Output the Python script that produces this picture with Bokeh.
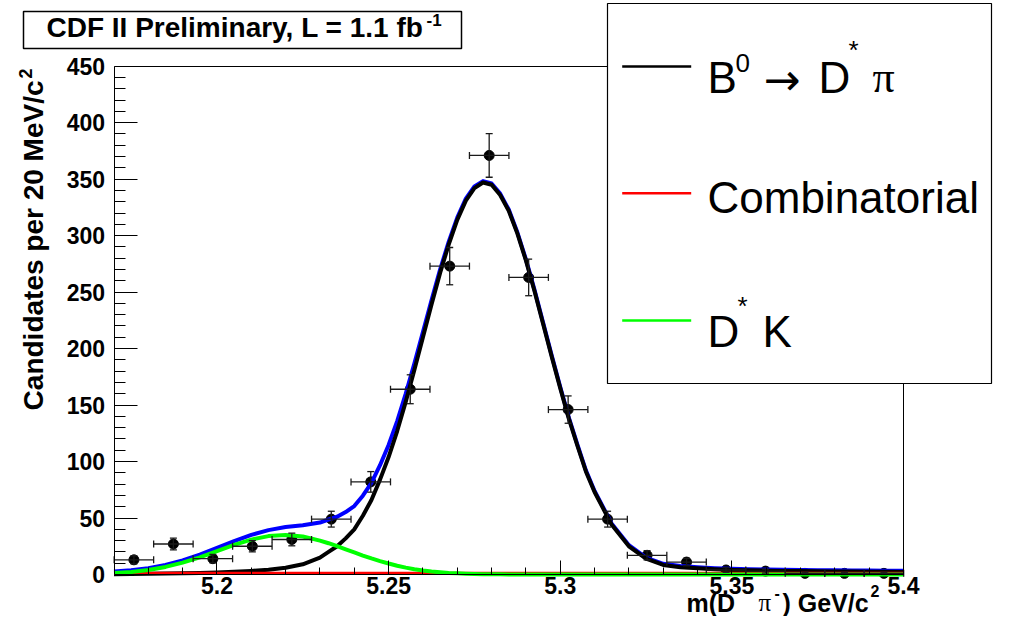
import math
from bokeh.plotting import figure
from bokeh.models import (Range1d, FixedTicker, ColumnDataSource, Whisker, TeeHead,
                          Label, BoxAnnotation, Arrow, LinearAxis)
from bokeh.embed import file_html
from bokeh.resources import INLINE

# ---------------- data ----------------
bin_centers = [5.1758, 5.1873, 5.1988, 5.2103, 5.2218, 5.2333, 5.2448, 5.2563,
               5.2678, 5.2793, 5.2908, 5.3023, 5.3138, 5.3253, 5.3368, 5.3483,
               5.3598, 5.3713, 5.3828, 5.3943]
bin_width = 0.0115
counts = [13, 27, 14, 25, 31, 49, 82, 164, 273, 371, 263, 146, 49, 17, 11, 4, 3, 1, 1, 1]
count_err = [3.6, 5.2, 3.7, 5.0, 5.6, 7.0, 9.1, 12.8, 16.5, 19.3, 16.2, 12.1, 7.0,
             4.1, 3.3, 2.0, 1.7, 1.0, 1.0, 1.0]

fit_mass = [5.170, 5.175, 5.180, 5.185, 5.190, 5.195, 5.200, 5.205, 5.210, 5.215,
            5.220, 5.225, 5.230, 5.2325, 5.235, 5.2375, 5.240, 5.2425, 5.245, 5.2475, 5.250,
            5.2525, 5.255, 5.2575, 5.260, 5.2625, 5.265, 5.2675, 5.270, 5.2725, 5.275,
            5.2775, 5.280, 5.2825, 5.285, 5.2875, 5.290, 5.2925, 5.295, 5.2975, 5.300,
            5.3025, 5.305, 5.3075,
            5.310, 5.315, 5.320, 5.325, 5.330, 5.335, 5.340, 5.345, 5.350, 5.355,
            5.360, 5.365, 5.370, 5.375, 5.380, 5.385, 5.390, 5.395, 5.400]
fit_signal = [0.3, 0.4, 0.6, 0.8, 1.0, 1.4, 1.8, 2.4, 3.2, 4.3,
              6.0, 9.0, 15, 20, 25, 32, 40, 52, 66, 84, 104,
              127, 153, 181, 210, 239, 267, 292, 314, 331, 342,
              347, 345, 336, 322, 302, 278, 251, 222, 193, 165,
              138, 114, 91,
              73, 44, 25, 14, 8.5, 6.5, 5.5, 4.6, 4.0, 3.7,
              3.4, 3.2, 3.0, 2.8, 2.7, 2.6, 2.5, 2.4, 2.3]
fit_dstar_k = [1.3, 2.3, 4.0, 6.7, 10.5, 15.2, 20.7, 26.2, 30.9, 34.0,
               35.0, 33.6, 30.0, 27.7, 25.1, 22.3, 19.6, 16.8, 14.2, 11.8, 9.7,
               7.8, 6.1, 4.7, 3.6, 2.7, 2.0, 1.4, 1.0, 0.7, 0.5,
               0.3, 0.2, 0.15, 0.1, 0, 0, 0, 0, 0, 0,
               0, 0, 0,
               0, 0, 0, 0, 0, 0, 0, 0, 0, 0,
               0, 0, 0, 0, 0, 0, 0, 0, 0]
fit_total = [2.6, 3.7, 5.6, 8.5, 12.5, 17.6, 23.5, 29.6, 35.1, 39.3,
             42.0, 43.6, 46.0, 48.7, 51.1, 55.3, 60.6, 69.8, 81.2, 96.8, 114.7,
             135.8, 160.1, 186.7, 214.6, 242.7, 270.0, 294.4, 316.0, 332.7, 343.5,
             348.3, 346.2, 337.2, 323.1, 303.0, 279.0, 252.0, 223.0, 194.0, 166.0,
             139.0, 115.0, 92.0,
             74.0, 45.0, 26.0, 15.0, 9.5, 7.5, 6.5, 5.6, 5.0, 4.7,
             4.4, 4.2, 4.0, 3.8, 3.7, 3.6, 3.5, 3.4, 3.3]
comb_mass = [5.17, 5.40]
comb_level = [1.0, 1.0]

x_major_ticks = [5.2, 5.25, 5.3, 5.35, 5.4]
x_tick_labels = ["5.2", "5.25", "5.3", "5.35", "5.4"]
x_minor_ticks = [5.18, 5.19, 5.21, 5.22, 5.23, 5.24, 5.26, 5.27, 5.28, 5.29,
                 5.31, 5.32, 5.33, 5.34, 5.36, 5.37, 5.38, 5.39]
y_major_ticks = [0, 50, 100, 150, 200, 250, 300, 350, 400, 450]
y_minor_ticks = [10, 20, 30, 40, 60, 70, 80, 90, 110, 120, 130, 140, 160, 170, 180, 190,
                 210, 220, 230, 240, 260, 270, 280, 290, 310, 320, 330, 340, 360, 370,
                 380, 390, 410, 420, 430, 440]

# ---------------- geometry ----------------
X_LO, X_HI = 5.17, 5.40
Y_LO, Y_HI = 0, 450
W, H = 993, 616
# pixel box (canvas px) of the data region
FRAME_L, FRAME_R, FRAME_T, FRAME_B = 113.5, 903, 65.7, 574
BASE_SHIFT = 0.36  # label anchor sits this fraction of the font size above the baseline


def cx(px):
    return X_LO + (px - FRAME_L) * (X_HI - X_LO) / (FRAME_R - FRAME_L)


def cy(py):
    return Y_LO + (FRAME_B - py) * (Y_HI - Y_LO) / (FRAME_B - FRAME_T)


p = figure(width=W, height=H, x_range=Range1d(cx(0), cx(W)), y_range=Range1d(cy(H), cy(0)),
           output_backend="svg", toolbar_location=None,
           min_border_left=0, min_border_right=0, min_border_top=0, min_border_bottom=0)
p.title.visible = False
p.grid.visible = False
p.outline_line_color = None
p.background_fill_color = "white"
p.border_fill_color = "white"

FONT = "Liberation Sans"

xa = p.xaxis[0]
xa.fixed_location = Y_LO
xa.bounds = (X_LO, X_HI)
xa.ticker = FixedTicker(ticks=x_major_ticks, minor_ticks=x_minor_ticks)
xa.major_label_overrides = dict(zip(x_major_ticks, x_tick_labels))
xa.major_tick_in = 14
xa.major_tick_out = 0
xa.minor_tick_in = 7
xa.minor_tick_out = 0
xa.major_label_standoff = 2

ya = p.yaxis[0]
ya.fixed_location = X_LO
ya.bounds = (Y_LO, Y_HI)
ya.ticker = FixedTicker(ticks=y_major_ticks, minor_ticks=y_minor_ticks)
ya.major_tick_in = 23
ya.major_tick_out = 0
ya.minor_tick_in = 11
ya.minor_tick_out = 0
ya.major_label_standoff = 9

for ax in (xa, ya):
    ax.axis_line_color = "black"
    ax.axis_line_width = 1
    ax.major_tick_line_color = "black"
    ax.minor_tick_line_color = "black"
    ax.major_label_text_font = FONT
    ax.major_label_text_font_style = "bold"
    ax.major_label_text_font_size = "23px"
    ax.major_label_text_color = "black"

# frame top and right edges (plain lines, no ticks)
top_axis = LinearAxis(fixed_location=Y_HI, bounds=(X_LO, X_HI), ticker=FixedTicker(ticks=[]),
                      major_tick_in=0, major_tick_out=0, minor_tick_in=0, minor_tick_out=0,
                      major_label_text_font_size="0px", axis_line_color="black")
right_axis = LinearAxis(fixed_location=X_HI, bounds=(Y_LO, Y_HI), ticker=FixedTicker(ticks=[]),
                        major_tick_in=0, major_tick_out=0, minor_tick_in=0, minor_tick_out=0,
                        major_label_text_font_size="0px", axis_line_color="black")
p.add_layout(top_axis, "above")
p.add_layout(right_axis, "right")

# ---------------- data points with error bars ----------------
src = ColumnDataSource(dict(
    x=bin_centers, y=counts,
    lo=[c - e for c, e in zip(counts, count_err)],
    hi=[c + e for c, e in zip(counts, count_err)],
    xlo=[b - bin_width / 2 for b in bin_centers],
    xhi=[b + bin_width / 2 for b in bin_centers],
))
EB = "#1a1a1a"
for dim, base, lo, hi in (("height", "x", "lo", "hi"), ("width", "y", "xlo", "xhi")):
    p.add_layout(Whisker(source=src, base=base, lower=lo, upper=hi, dimension=dim,
                         line_color=EB, line_width=1.3, level="glyph",
                         lower_head=TeeHead(size=7, line_color=EB, line_width=1.3),
                         upper_head=TeeHead(size=7, line_color=EB, line_width=1.3)))
p.scatter("x", "y", source=src, size=10, marker="circle", color="black")

# ---------------- fit curves ----------------
p.line(fit_mass, fit_total, line_color="#0000ff", line_width=4, line_join="round")
p.line(fit_mass, fit_signal, line_color="black", line_width=4, line_join="round")
p.line(comb_mass, comb_level, line_color="#ff0000", line_width=3)
p.line(fit_mass, fit_dstar_k, line_color="#00ff00", line_width=4, line_join="round")


def txt(s, px, py, size, bold=True, font=FONT, align="left", vertical=False):
    """px, py: canvas position of the text's baseline start (or end for align='right')."""
    if vertical:
        px = px - BASE_SHIFT * size
        angle = math.pi / 2
    else:
        py = py - BASE_SHIFT * size
        angle = 0.0
    p.add_layout(Label(x=cx(px), y=cy(py), text=s, text_font=font,
                       text_font_size=f"{size}px",
                       text_font_style="bold" if bold else "normal",
                       text_align=align, text_baseline="alphabetic",
                       angle=angle, text_color="black"))


def box(left, right, top, bottom, lw):
    p.add_layout(BoxAnnotation(left=cx(left), right=cx(right), top=cy(top), bottom=cy(bottom),
                               fill_color="white", fill_alpha=1.0,
                               line_color="black", line_alpha=1.0, line_width=lw))


# ---------------- title box ----------------
box(23, 461, 11, 48, 1.5)
txt("CDF II Preliminary, L = 1.1 fb", 46, 37.5, 28)
txt("-1", 426, 26, 17)

# ---------------- axis titles ----------------
txt("Candidates per 20 MeV/c", 43, 80, 28, align="right", vertical=True)
txt("2", 31, 78, 18, vertical=True)

txt("m(D", 686, 611, 25)
txt("\u03c0", 758, 611, 25, bold=False, font="Liberation Serif")
txt("-", 774, 598, 16)
txt(") GeV/c", 782, 611, 25)
txt("2", 870, 596, 16)

# ---------------- legend ----------------
box(607, 991, 3, 383, 1.2)
for yy, col in ((66, "black"), (192.7, "#ff0000"), (320, "#00ff00")):
    p.add_layout(Arrow(x_start=cx(621.7), y_start=cy(yy), x_end=cx(690.7), y_end=cy(yy),
                       end=None, line_color=col, line_width=2.5))

txt("B", 707, 92.7, 44, bold=False)
txt("0", 735, 72, 26, bold=False)
txt("\u2192", 763, 95, 44, bold=False, font="DejaVu Sans")
txt("D", 818, 92.7, 44, bold=False)
txt("*", 848, 59, 26, bold=False)
txt("\u03c0", 872, 92.7, 44, bold=False, font="Liberation Serif")

txt("Combinatorial", 707, 212.7, 44, bold=False)

txt("D", 707, 346.7, 44, bold=False)
txt("*", 737, 315, 26, bold=False)
txt("K", 762, 346.7, 44, bold=False)

open("out.html", "w").write(file_html(p, INLINE))
